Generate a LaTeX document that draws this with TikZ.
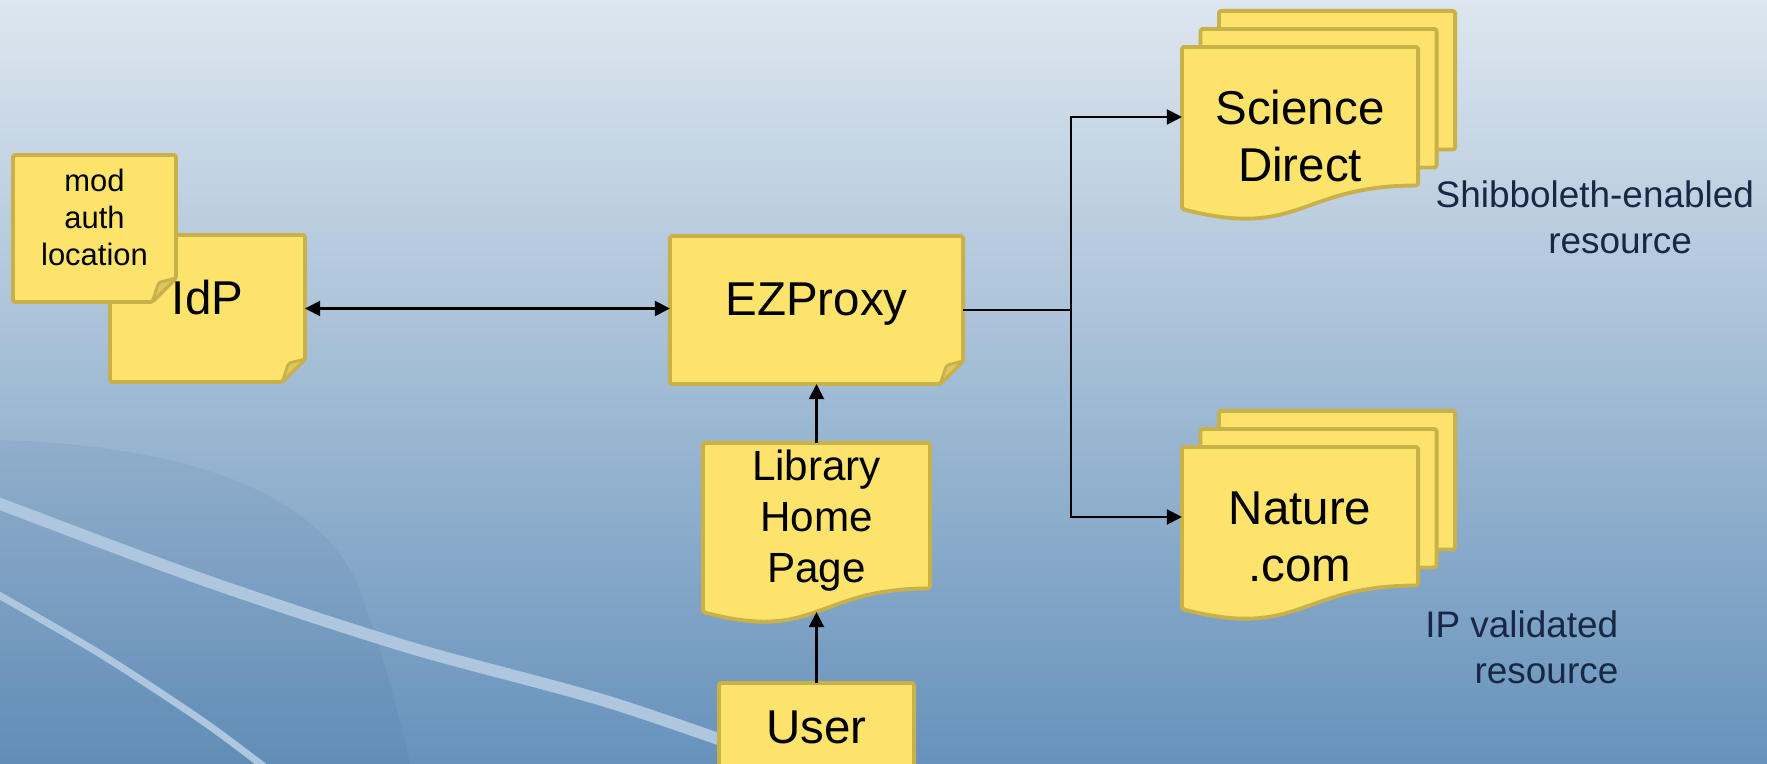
\documentclass[tikz,border=0pt]{standalone}
\usepackage{fontspec}
\setmainfont{Liberation Sans}
\usepackage{xcolor}
\usetikzlibrary{positioning,arrows.meta,calc}
\pgfdeclarelayer{backdrop}
\pgfdeclarelayer{sheet}
\pgfsetlayers{backdrop,sheet,main}

\definecolor{paperfill}{RGB}{252,227,108}
\definecolor{paperedge}{RGB}{201,176,72}
\definecolor{flapfill}{RGB}{222,200,94}
\definecolor{skytop}{RGB}{221,230,239}
\definecolor{skymid}{RGB}{166,191,214}
\definecolor{skybottom}{RGB}{102,146,187}
\definecolor{skydeep}{RGB}{40,80,130}
\definecolor{swoosh}{RGB}{174,199,222}
\definecolor{labelink}{RGB}{24,40,68}

% note with a folded corner, drawn behind the node text
\newcommand{\foldpaper}[2]{%
  \begin{pgfonlayer}{sheet}
    \filldraw[paper] (#1.north west) -- (#1.north east) -- ([yshift=#2]#1.south east)
      -- ([xshift=-#2]#1.south east) -- (#1.south west) -- cycle;
    \filldraw[paper, fill=flapfill, line width=0.8pt] ([yshift=#2]#1.south east)
      -- ([shift={(-0.72*#2,0.82*#2)}]#1.south east) -- ([xshift=-#2]#1.south east) -- cycle;
  \end{pgfonlayer}}

% page with a wavy bottom edge
\newcommand{\docpaper}[1]{%
  \begin{pgfonlayer}{sheet}
    \filldraw[paper] (#1.north west) -- (#1.north east) -- ([yshift=2.35mm]#1.south east)
      .. controls ([yshift=2.35mm]#1.south) and ([yshift=-3.05mm]#1.south) .. (#1.south west) -- cycle;
  \end{pgfonlayer}}

% three pages stacked
\newcommand{\stackpaper}[1]{%
  \begin{pgfonlayer}{sheet}
    \filldraw[paper] ([shift={(3.7mm,3.6mm)}]#1.north west) rectangle ([shift={(3.7mm,5.95mm)}]#1.south east);
    \filldraw[paper] ([shift={(1.85mm,1.8mm)}]#1.north west) rectangle ([shift={(1.85mm,4.15mm)}]#1.south east);
  \end{pgfonlayer}
  \docpaper{#1}}

% extra room above the first line of a node
\newcommand{\topgap}{\rule{0pt}{14.3pt}}

\begin{document}
\begin{tikzpicture}[x=0.01cm, y=-0.01cm,
    >={Triangle[length=4.3pt,width=4.3pt]},
    paper/.style={draw=paperedge, fill=paperfill, line width=1.1pt, rounded corners=0.7pt, line join=round},
    box/.style={inner sep=0pt, outer sep=0pt, align=center, font=\fontsize{13.5}{16.4}\selectfont},
    lifted/.style={execute at end node={\rule[-6.2pt]{0pt}{0pt}}},
    link/.style={line width=0.6pt},
    tag/.style={inner sep=0pt, text=labelink, font=\fontsize{10.5}{13}\selectfont}]

    \useasboundingbox (0,0) rectangle (1767,764);

    % Backdrop
    \begin{pgfonlayer}{backdrop}
        \shade[top color=skytop, middle color=skymid, bottom color=skybottom] (0,0) rectangle (1767,764);
        \fill[skydeep, opacity=0.07] (0,440) .. controls (180,445) and (320,490) .. (360,590)
            .. controls (385,660) and (400,720) .. (410,764) -- (0,764) -- cycle;
        \draw[swoosh, line width=3.4pt] plot[smooth] coordinates {(-10,500) (204,580) (408,647) (612,703) (820,775)};
        \draw[swoosh, line width=2pt] plot[smooth] coordinates {(-10,590) (102,655) (204,722) (275,775)};
    \end{pgfonlayer}

    % Identity provider and its note
    \node[box, lifted, minimum width=1.95cm, minimum height=1.47cm] (idp) at (207.5,308.5) {IdP};
    \node[box, lifted, font=\fontsize{8.8}{10.5}\selectfont, minimum width=1.63cm, minimum height=1.47cm] (authnote) at (94.5,228.5) {mod\\auth\\location};
    \foldpaper{idp}{2.3mm}
    \foldpaper{authnote}{2.4mm}

    % Proxy and the way in
    \node[box, lifted, minimum width=2.93cm, minimum height=1.48cm] (ezproxy) at (816.5,310) {EZProxy};
    \foldpaper{ezproxy}{2.3mm}

    \node[box, lifted, font=\fontsize{12}{14.5}\selectfont, minimum width=2.27cm, minimum height=1.69cm] (library) at (816.5,527.5) {Library\\Home\\Page};
    \docpaper{library}

    \node[box, minimum width=1.95cm, minimum height=0.88cm] (user) at (816.5,727) {User};
    \begin{pgfonlayer}{sheet}
        \filldraw[paper] (user.south west) rectangle (user.north east);
    \end{pgfonlayer}

    % Resources
    \node[box, minimum width=2.36cm, minimum height=1.62cm] (science) at (1300,128) {\topgap Science\\Direct};
    \stackpaper{science}
    \node[box, minimum width=2.36cm, minimum height=1.62cm] (nature) at (1300,528) {\topgap Nature\\.com};
    \stackpaper{nature}

    \node[tag, anchor=west, align=left] (shibtag) at (1435,217) {Shibboleth-enabled\\\hspace*{32pt}resource};
    \node[tag, anchor=east, align=right] (iptag) at (1619,647.5) {IP validated\\resource};

    % Connectors
    \coordinate (split) at ([xshift=1.08cm]ezproxy.east);
    \draw[link, <->] (idp.east) -- (idp.east -| ezproxy.west);
    \draw[link] (ezproxy.east) -- (split);
    \draw[link, ->] (split) |- ([yshift=1.1mm]science.west);
    \draw[link, ->] (split) |- ([yshift=1.1mm]nature.west);
    \draw[link, ->] (library.north) -- (ezproxy.south);
    \draw[link, ->] (user.north) -- (library.south);
\end{tikzpicture}
\end{document}
